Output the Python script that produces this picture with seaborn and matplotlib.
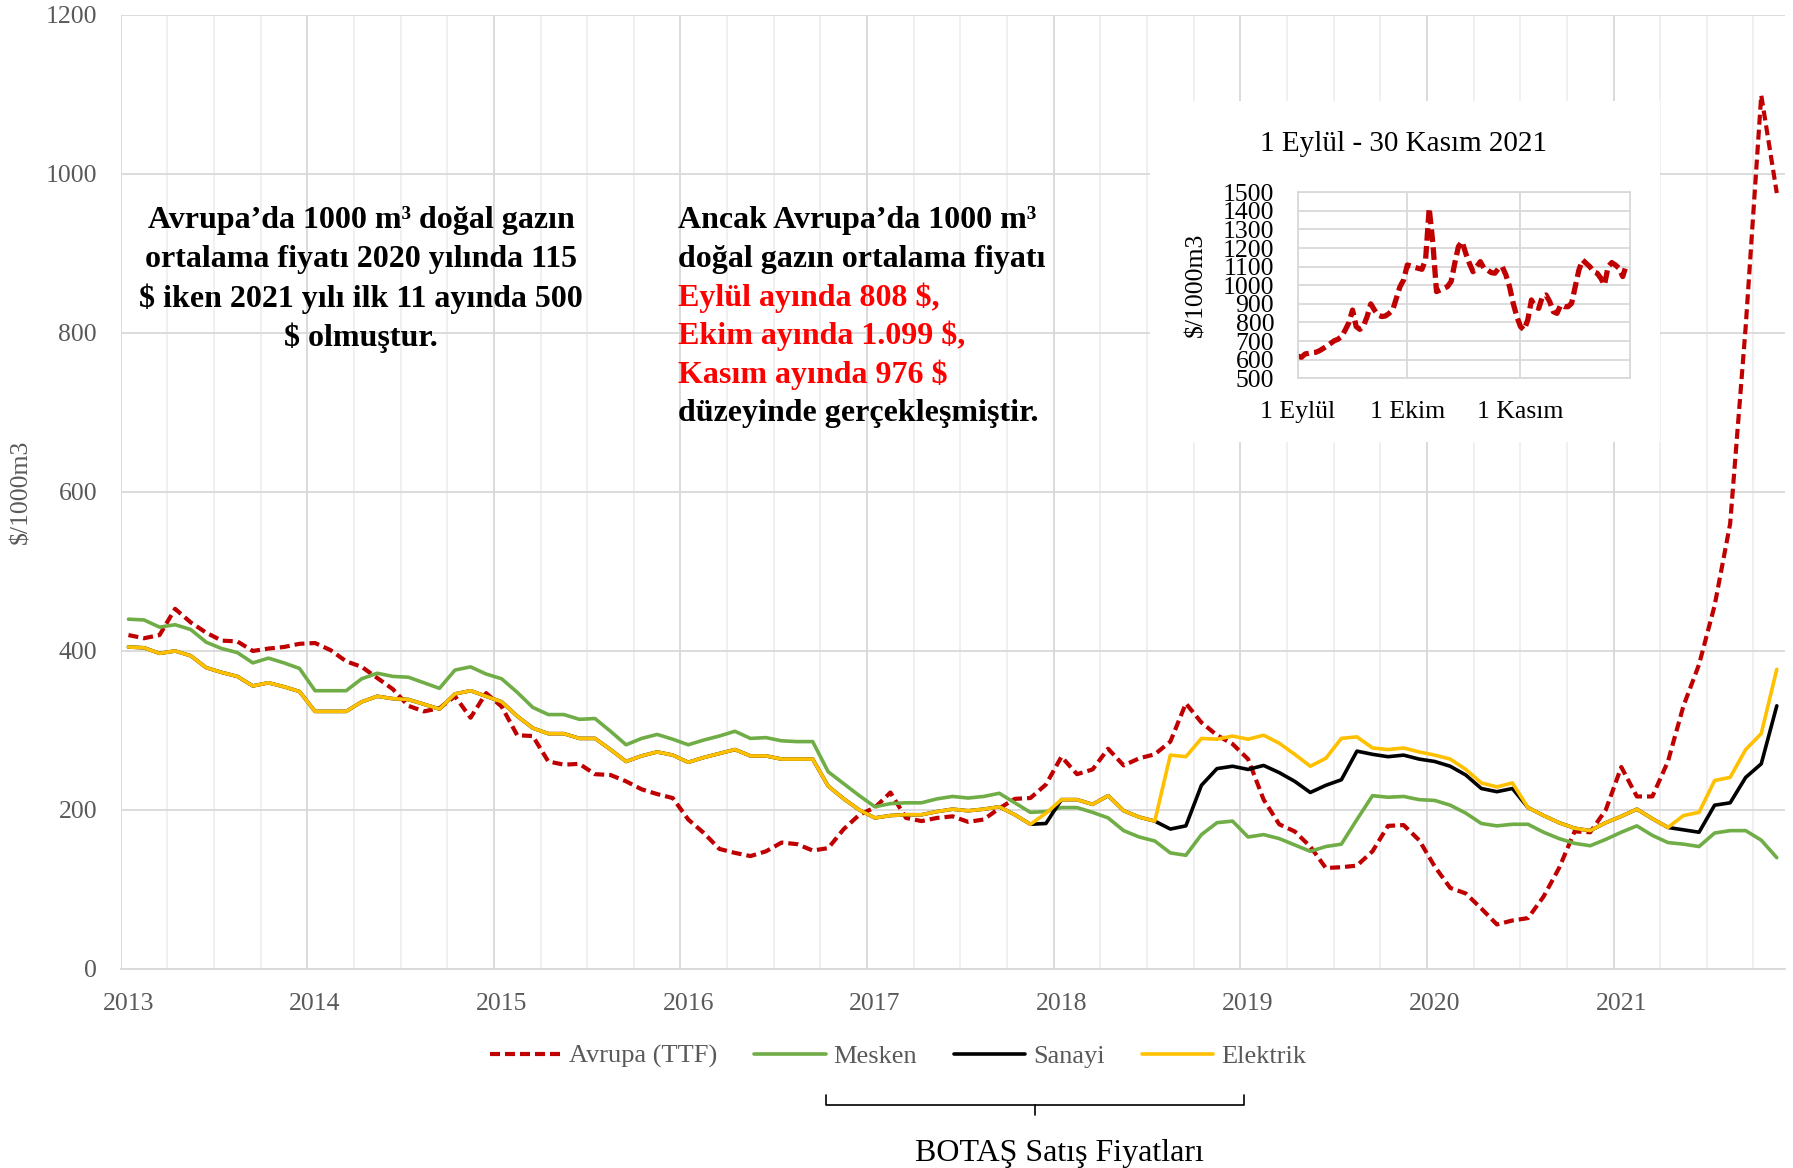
import numpy as np
import seaborn as sns
import matplotlib.pyplot as plt
from matplotlib.lines import Line2D
from matplotlib.patches import Rectangle

# Monthly prices, $/1000 m3, Jan 2013 - Nov 2021
years = [str(y) for y in range(2013, 2022)]

avrupa = [420, 416, 420, 453, 436, 423, 413, 412, 400, 403, 405, 409,
          410, 401, 387, 380, 366, 352, 331, 324, 328, 343, 316, 347,
          330, 294, 293, 261, 257, 258, 245, 244, 236, 226, 220, 215,
          188, 171, 151, 146, 142, 148, 159, 157, 149, 152, 176, 194,
          203, 222, 190, 186, 190, 192, 185, 188, 202, 214, 215, 232,
          267, 245, 251, 277, 256, 265, 270, 286, 334, 310, 294, 283,
          264, 213, 182, 173, 154, 127, 128, 130, 148, 180, 181, 162,
          129, 102, 95, 76, 56, 61, 64, 91, 127, 173, 172, 200,
          254, 217, 217, 261, 331, 383, 457, 560, 808, 1099, 976]

mesken = [440, 439, 430, 433, 427, 411, 403, 398, 385, 391, 385, 378,
          350, 350, 350, 365, 372, 368, 367, 360, 353, 376, 380, 371,
          365, 348, 329, 320, 320, 314, 315, 299, 282, 290, 295, 289,
          282, 288, 293, 299, 290, 291, 287, 286, 286, 248, 233, 218,
          204, 208, 209, 209, 214, 217, 215, 217, 221, 209, 197, 198,
          203, 203, 197, 190, 174, 166, 161, 146, 143, 169, 184, 186,
          166, 169, 164, 156, 148, 154, 157, 188, 218, 216, 217, 213,
          212, 206, 196, 183, 180, 182, 182, 172, 164, 158, 155, 163,
          172, 180, 168, 159, 157, 154, 171, 174, 174, 162, 140]

sanayi = [405, 404, 397, 400, 394, 379, 373, 368, 356, 360, 355, 349,
          324, 324, 324, 336, 343, 340, 339, 333, 327, 346, 350, 343,
          336, 318, 303, 296, 296, 290, 290, 276, 261, 268, 273, 269,
          260, 266, 271, 276, 268, 268, 264, 264, 264, 230, 214, 200,
          190, 193, 194, 194, 198, 201, 199, 201, 204, 194, 182, 183,
          213, 213, 207, 218, 199, 191, 186, 176, 180, 231, 252, 255,
          251, 256, 247, 236, 222, 231, 238, 274, 270, 267, 269, 264,
          261, 255, 244, 227, 223, 227, 203, 193, 184, 177, 174, 184,
          192, 201, 189, 178, 175, 172, 206, 209, 241, 258, 331]

elektrik = [405, 404, 397, 400, 394, 379, 373, 368, 356, 360, 355, 349,
            324, 324, 324, 336, 343, 340, 339, 333, 327, 346, 350, 343,
            336, 318, 303, 296, 296, 290, 290, 276, 261, 268, 273, 269,
            260, 266, 271, 276, 268, 268, 264, 264, 264, 230, 214, 200,
            190, 193, 194, 194, 198, 201, 199, 201, 204, 194, 182, 196,
            213, 213, 207, 218, 199, 191, 186, 269, 267, 290, 289, 293,
            289, 294, 284, 270, 255, 265, 290, 292, 278, 276, 278, 273,
            269, 264, 251, 234, 229, 234, 203, 193, 184, 177, 174, 184,
            192, 201, 189, 178, 193, 197, 237, 241, 276, 296, 377]

# Daily TTF, 1 Sep - 30 Nov 2021
inset_ttf = [620, 613, 631, 634, 638, 640, 649, 661, 674, 688,
             702, 710, 724, 760, 799, 867, 778, 763, 781, 832,
             900, 867, 840, 832, 835, 849, 867, 930, 993, 1029,
             1109, 1104, 1097, 1091, 1086, 1136, 1414, 1226, 966, 975,
             984, 993, 1020, 1118, 1208, 1235, 1172, 1118, 1073, 1100,
             1127, 1091, 1082, 1068, 1065, 1091, 1100, 1056, 993, 903,
             832, 778, 760, 814, 921, 885, 876, 939, 948, 912,
             858, 849, 894, 885, 885, 903, 993, 1082, 1136, 1118,
             1100, 1073, 1065, 1038, 1002, 1100, 1122, 1109, 1091, 1047,
             1110]
inset_ticks = [0, 30, 61]
inset_labels = ["1 Eylül", "1 Ekim", "1 Kasım"]

sns.set_theme(style="white")
plt.rcParams["font.family"] = ["Liberation Serif", "DejaVu Serif"]
plt.rcParams["text.parse_math"] = False

RED, GREEN, BLACK, GOLD = "#C00000", "#70AD47", "#000000", "#FFC000"
GRID, TXT = "#d9d9d9", "#595959"

fig = plt.figure(figsize=(17.93, 11.68), dpi=100)
ax = fig.add_axes([0.0673, 0.1704, 0.9280, 0.8168])

months = np.arange(len(avrupa)) + 0.5
sns.lineplot(x=months, y=avrupa, ax=ax, color=RED, lw=3.0,
             linestyle=(0, (2.4, 1.2)), label="Avrupa (TTF)")
sns.lineplot(x=months, y=mesken, ax=ax, color=GREEN, lw=2.6, label="Mesken")
sns.lineplot(x=months, y=sanayi, ax=ax, color=BLACK, lw=2.6, label="Sanayi")
sns.lineplot(x=months, y=elektrik, ax=ax, color=GOLD, lw=2.6, label="Elektrik")
handles, labels = ax.get_legend_handles_labels()
ax.get_legend().remove()

ax.set_xlim(0, 107)
ax.set_ylim(0, 1200)
ax.set_yticks(range(0, 1201, 200))
ax.set_xticks(np.arange(0, 107, 12) + 0.5, labels=years)
ax.set_xticks(np.arange(0, 108, 3), minor=True)
ax.set_axisbelow(True)
ax.grid(axis="y", color=GRID, lw=1.3)
ax.grid(axis="x", which="major", visible=False)
ax.grid(axis="x", which="minor", color="#efefef", lw=1.3)
for b in range(0, 108, 12):
    ax.axvline(b, color=GRID, lw=1.3, zorder=0.6)
for s in ["top", "right", "left"]:
    ax.spines[s].set_visible(False)
ax.spines["bottom"].set_color(GRID)
ax.spines["bottom"].set_linewidth(1.3)
ax.tick_params(which="both", length=0, labelsize=18.5, labelcolor=TXT)
ax.tick_params(axis="y", pad=17)
ax.tick_params(axis="x", pad=17)
ax.set_xlabel("")
ax.set_ylabel("$/1000m3", fontsize=18.5, color=TXT)
ax.yaxis.set_label_coords(-0.0533, 0.5)

# annotations
left_lines = ["Avrupa’da 1000 m³ doğal gazın",
              "ortalama fiyatı 2020 yılında 115",
              "$ iken 2021 yılı ilk 11 ayında 500",
              "$ olmuştur."]
for k, t in enumerate(left_lines):
    fig.text(361 / 1793, 1 - (220.8 + 38.9 * k) / 1168, t, ha="center", va="center",
             fontsize=23, fontweight="bold", color="black")

right_lines = [("Ancak Avrupa’da 1000 m³", "black"),
               ("doğal gazın ortalama fiyatı", "black"),
               ("Eylül ayında 808 $,", "#FF0000"),
               ("Ekim ayında 1.099 $,", "#FF0000"),
               ("Kasım ayında 976 $", "#FF0000"),
               ("düzeyinde gerçekleşmiştir.", "black")]
for k, (t, c) in enumerate(right_lines):
    fig.text(678 / 1793, 1 - (220.8 + 38.45 * k) / 1168, t, ha="left", va="center",
             fontsize=23, fontweight="bold", color=c)

# inset
fig.add_artist(Rectangle((0.6414, 0.6216), 0.2844, 0.2919, transform=fig.transFigure,
                         facecolor="white", edgecolor="none", zorder=1))
ax2 = fig.add_axes([0.7238, 0.6761, 0.1853, 0.1593])
ax2.set_zorder(3)
days = np.arange(len(inset_ttf))
sns.lineplot(x=days, y=inset_ttf, ax=ax2, color=RED, lw=3.8, linestyle=(0, (2.4, 1.0)))
ax2.set_xlim(0, 91)
ax2.set_ylim(500, 1500)
ax2.set_yticks(range(500, 1501, 100))
ax2.set_xticks(inset_ticks, labels=inset_labels)
ax2.grid(color=GRID, lw=1.3)
ax2.set_axisbelow(True)
for s in ax2.spines.values():
    s.set_color(GRID)
    s.set_linewidth(1.3)
ax2.tick_params(length=0, labelsize=18.5, labelcolor="black")
ax2.tick_params(axis="y", pad=17)
ax2.tick_params(axis="x", pad=16.5)
ax2.set_ylabel("$/1000m3", fontsize=18.5, color="black")
ax2.yaxis.set_label_coords(-0.271, 0.5)
fig.text(1403 / 1793, 1 - 144 / 1168, "1 Eylül - 30 Kasım 2021", ha="center", va="center",
         fontsize=21, color="black")

# legend
fig.legend(handles, labels, loc="center", bbox_to_anchor=(0.5008, 0.0956), ncol=4,
           frameon=False, fontsize=19, handlelength=2.7, handletextpad=0.3,
           columnspacing=1.4, labelcolor=TXT)

# bracket under the BOTAS series
xl, xm, xr = 825.6 / 1793, 1034.8 / 1793, 1244 / 1793
yt, yh, yb = 1 - 1094.8 / 1168, 1 - 1105 / 1168, 1 - 1115.4 / 1168
fig.add_artist(Line2D([xl, xl, xr, xr], [yt, yh, yh, yt], transform=fig.transFigure,
                      color="black", lw=1.2))
fig.add_artist(Line2D([xm, xm], [yh, yb], transform=fig.transFigure, color="black", lw=1.2))
fig.text(1059 / 1793, 1 - 1153 / 1168, "BOTAŞ Satış Fiyatları", ha="center", va="center",
         fontsize=23, color="black")

fig.savefig("out.png", dpi=100)
